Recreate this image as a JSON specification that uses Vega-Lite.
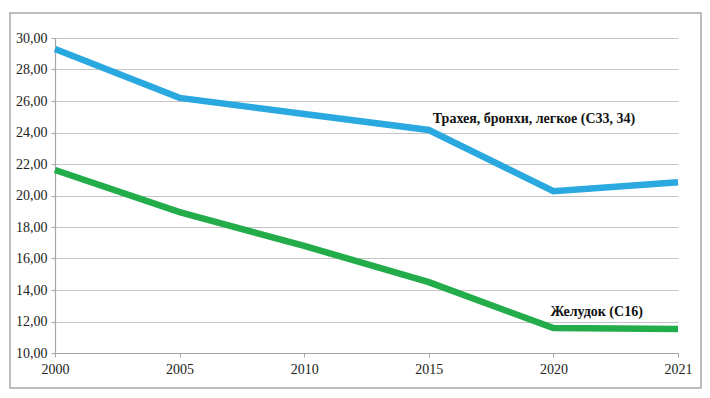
{
  "$schema": "https://vega.github.io/schema/vega-lite/v6.json",
  "width": 691,
  "height": 375,
  "autosize": "none",
  "padding": {"left": 10, "top": 13, "right": 9, "bottom": 10},
  "background": "white",
  "config": {
    "view": {"stroke": "#a8a8a8", "strokeWidth": 1.5},
    "font": "'Liberation Serif', serif",
    "axis": {
      "labelFont": "'Liberation Serif', serif",
      "labelFontSize": 14,
      "labelColor": "#222222",
      "domainColor": "#a6a6a6",
      "tickColor": "#a6a6a6",
      "gridColor": "#c4c4c4",
      "domainWidth": 1.2,
      "gridWidth": 1.2,
      "tickSize": 4,
      "title": null
    }
  },
  "datasets": {
    "labels": [
      {"year": "2015", "value": 24.86, "label": "Трахея, бронхи, легкое (С33, 34)"},
      {"year": "2020", "value": 12.63, "label": "Желудок (С16)"}
    ]
  },
  "encoding": {
    "x": {
      "field": "year",
      "type": "ordinal",
      "scale": {"type": "point", "range": [45, 668], "padding": 0},
      "axis": {"labelAngle": 0, "grid": false, "offset": -35, "labelPadding": 5}
    },
    "y": {
      "field": "value",
      "type": "quantitative",
      "scale": {"domain": [10, 30], "nice": false, "zero": false, "range": [340, 25]},
      "axis": {
        "values": [10, 12, 14, 16, 18, 20, 22, 24, 26, 28, 30],
        "labelExpr": "replace(format(datum.value, '.2f'), '.', ',')",
        "labelOverlap": false,
        "offset": -45,
        "grid": true,
        "labelPadding": 4
      }
    }
  },
  "layer": [
    {
      "data": {
        "values": [
          {"year": "2000", "series": "Трахея, бронхи, легкое (С33, 34)", "value": 29.3},
          {"year": "2005", "series": "Трахея, бронхи, легкое (С33, 34)", "value": 26.2},
          {"year": "2010", "series": "Трахея, бронхи, легкое (С33, 34)", "value": 25.17},
          {"year": "2015", "series": "Трахея, бронхи, легкое (С33, 34)", "value": 24.16},
          {"year": "2020", "series": "Трахея, бронхи, легкое (С33, 34)", "value": 20.27},
          {"year": "2021", "series": "Трахея, бронхи, легкое (С33, 34)", "value": 20.84},
          {"year": "2000", "series": "Желудок (С16)", "value": 21.62},
          {"year": "2005", "series": "Желудок (С16)", "value": 18.95},
          {"year": "2010", "series": "Желудок (С16)", "value": 16.8},
          {"year": "2015", "series": "Желудок (С16)", "value": 14.5},
          {"year": "2020", "series": "Желудок (С16)", "value": 11.58},
          {"year": "2021", "series": "Желудок (С16)", "value": 11.52}
        ]
      },
      "mark": {"type": "line", "strokeWidth": 6.5, "strokeJoin": "miter", "strokeCap": "butt"},
      "encoding": {
        "color": {
          "field": "series",
          "type": "nominal",
          "scale": {
            "domain": ["Трахея, бронхи, легкое (С33, 34)", "Желудок (С16)"],
            "range": ["#2aa8e0", "#22ac4a"]
          },
          "legend": null
        }
      }
    },
    {
      "data": {"name": "labels"},
      "transform": [{"filter": "datum.year == '2015'"}],
      "mark": {"type": "text", "align": "left", "baseline": "middle", "dx": 4, "fontWeight": "bold", "fontSize": 14, "font": "'Liberation Serif', serif", "color": "#111111"},
      "encoding": {
        "text": {"field": "label"}
      }
    },
    {
      "data": {"name": "labels"},
      "transform": [{"filter": "datum.year == '2020'"}],
      "mark": {"type": "text", "align": "left", "baseline": "middle", "dx": -3, "fontWeight": "bold", "fontSize": 14, "font": "'Liberation Serif', serif", "color": "#111111"},
      "encoding": {
        "text": {"field": "label"}
      }
    }
  ]
}
